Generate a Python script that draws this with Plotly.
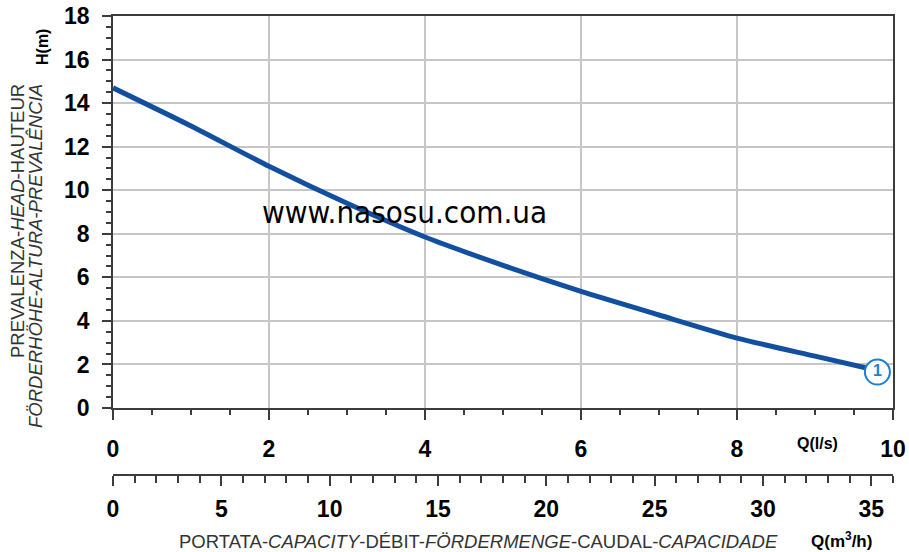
import plotly.graph_objects as go

# ---- data ----
q_ls = [0, 1, 2, 3, 4, 5, 6, 7, 8, 9, 9.8]
h_m = [14.7, 12.95, 11.1, 9.4, 7.85, 6.55, 5.35, 4.27, 3.21, 2.38, 1.72]
curve_label = ["1"]
label_q = [9.8]
label_h = [1.65]
x1_ticks = [0, 2, 4, 6, 8, 10]
x2_ticks = [0, 5, 10, 15, 20, 25, 30, 35]
y_ticks = [0, 2, 4, 6, 8, 10, 12, 14, 16, 18]

W, H = 909, 552
ML, MR, MT = 113, 16, 16
AXIS2_PX = 475          # page y of the m3/h axis line
MB = H - AXIS2_PX
PW = W - ML - MR
PH = H - MT - MB
plot_bottom_px = 408
ydom0 = (AXIS2_PX - plot_bottom_px) / PH


def px(xp):
    return (xp - ML) / PW


def py(yp):
    return (H - MB - yp) / PH


FONT = "Liberation Sans, Arial, sans-serif"
AX = "#3c3c3c"
GRID = "#c6c6c6"
TXT = "#333333"
TICKFONT = dict(family=FONT, size=23, color="black", weight="bold")

fig = go.Figure()
fig.add_trace(go.Scatter(x=q_ls, y=h_m, mode="lines",
                         line=dict(color="#124f9f", width=5, shape="spline", smoothing=0.6),
                         hoverinfo="skip", showlegend=False))
fig.add_trace(go.Scatter(x=label_q, y=label_h, mode="markers+text", text=curve_label,
                         textposition="middle center",
                         textfont=dict(family=FONT, size=16, color="#1b7fd3", weight="bold"),
                         marker=dict(symbol="circle", size=25, color="white",
                                     line=dict(color="#1b7fd3", width=2)),
                         cliponaxis=False, hoverinfo="skip", showlegend=False))
# trace for the m3/h axis
fig.add_trace(go.Scatter(x=[0, 36], y=[None, None], xaxis="x2", yaxis="y",
                         mode="lines", hoverinfo="skip", showlegend=False))

fig.update_layout(
    width=W, height=H,
    margin=dict(l=ML, r=MR, t=MT, b=MB, autoexpand=False),
    paper_bgcolor="white", plot_bgcolor="white",
    showlegend=False,
    xaxis=dict(range=[0, 10], tickvals=x1_ticks, ticks="outside", ticklen=10, tickwidth=1.5,
               tickcolor=AX, showline=True, linecolor=AX, linewidth=1.5, mirror=True,
               showgrid=True, gridcolor=GRID, gridwidth=1.5, zeroline=False,
               minor=dict(dtick=0.5, ticks="outside", ticklen=5, tickwidth=1.5,
                          tickcolor=AX, showgrid=False),
               tickfont=TICKFONT, automargin=False, ticklabeloverflow="allow",
               ticklabelstandoff=10, anchor="y"),
    xaxis2=dict(range=[0, 36], tickvals=x2_ticks, overlaying="x", side="bottom",
                anchor="free", position=0, ticks="outside", ticklen=10, tickwidth=1.5,
                tickcolor=AX, showline=True, linecolor=AX, linewidth=1.5,
                showgrid=False, zeroline=False, automargin=False,
                ticklabeloverflow="allow",
                minor=dict(dtick=1, ticks="outside", ticklen=7, tickwidth=1.5,
                           tickcolor=AX, showgrid=False),
                tickfont=TICKFONT, ticklabelstandoff=4),
    yaxis=dict(range=[0, 18], tickvals=y_ticks, domain=[ydom0, 1], ticks="outside",
               ticklen=9, tickwidth=1.5, tickcolor=AX, showline=True, linecolor=AX,
               linewidth=1.5, mirror=True, showgrid=True, gridcolor=GRID, gridwidth=1.5,
               zeroline=False, automargin=False, ticklabeloverflow="allow",
               minor=dict(dtick=0.5, ticks="outside", ticklen=5, tickwidth=1.5,
                          tickcolor=AX, showgrid=False),
               tickfont=TICKFONT, ticklabelstandoff=8),
)

ann = []
ann.append(dict(text="Q(l/s)", x=px(817), y=py(443), xref="paper", yref="paper",
                showarrow=False, xanchor="center", yanchor="middle",
                font=dict(family=FONT, size=16, color="black", weight="bold")))
ann.append(dict(text="Q(m<sup>3</sup>/h)", x=px(841), y=py(540), xref="paper", yref="paper",
                showarrow=False, xanchor="center", yanchor="middle",
                font=dict(family=FONT, size=17, color="black", weight="bold")))
ann.append(dict(text="PORTATA-<i>CAPACITY</i>-DÉBIT-<i>FÖRDERMENGE</i>-CAUDAL-<i>CAPACIDADE</i>",
                x=px(478), y=py(541), xref="paper", yref="paper",
                showarrow=False, xanchor="center", yanchor="middle",
                font=dict(family=FONT, size=18.5, color=TXT)))
ann.append(dict(text="PREVALENZA-<i>HEAD</i>-HAUTEUR", x=px(17), y=py(82),
                xref="paper", yref="paper", showarrow=False, textangle=-90,
                xanchor="center", yanchor="top",
                font=dict(family=FONT, size=18.5, color=TXT)))
ann.append(dict(text="<i>FÖRDERHÖHE-ALTURA-PREVALÊNCIA</i>", x=px(35), y=py(82),
                xref="paper", yref="paper", showarrow=False, textangle=-90,
                xanchor="center", yanchor="top",
                font=dict(family=FONT, size=18.5, color=TXT)))
ann.append(dict(text="H(m)", x=px(42), y=py(47), xref="paper", yref="paper",
                showarrow=False, textangle=-90, xanchor="center", yanchor="middle",
                font=dict(family=FONT, size=16, color="black", weight="bold")))
ann.append(dict(text="www.nasosu.com.ua", x=px(404), y=py(212), xref="paper", yref="paper",
                showarrow=False, xanchor="center", yanchor="middle",
                font=dict(family="Liberation Sans Narrow, DejaVu Sans Condensed, sans-serif",
                          size=31, color="black")))
fig.update_layout(annotations=ann)

fig.write_html("out.html", config={"displayModeBar": False},
               post_script="document.body.style.margin='0px';document.body.style.overflow='hidden';")
